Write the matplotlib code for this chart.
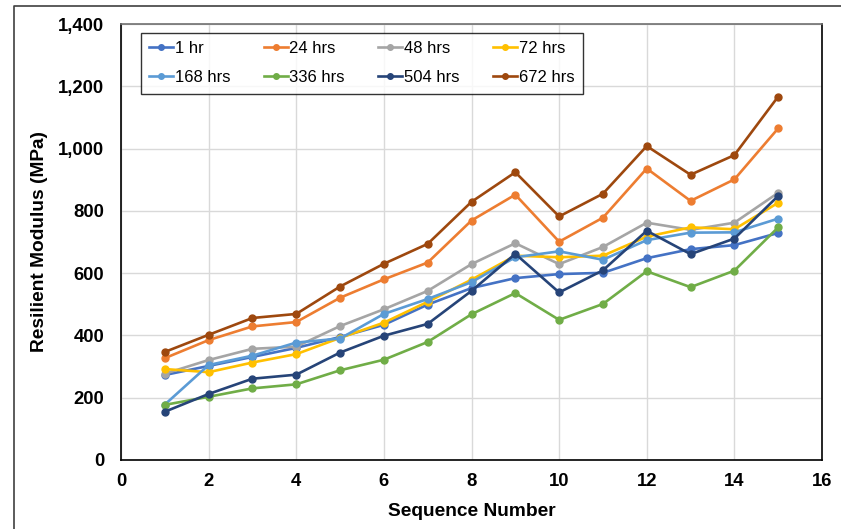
import matplotlib
matplotlib.use("Agg")
import matplotlib.pyplot as plt
from matplotlib.lines import Line2D
from matplotlib.ticker import FuncFormatter, MultipleLocator

plt.rcParams['font.family'] = ['Liberation Sans', 'DejaVu Sans']

seq = list(range(1, 16))
hr1 = [273, 302, 331, 360, 395, 434, 499, 552, 584, 597, 601, 648, 677, 690, 729]
hr24 = [327, 385, 429, 443, 521, 580, 634, 769, 852, 701, 778, 936, 832, 901, 1065]
hr48 = [277, 321, 357, 364, 430, 484, 543, 629, 696, 629, 684, 762, 739, 762, 858]
hr72 = [292, 282, 313, 340, 392, 441, 508, 579, 656, 651, 656, 717, 747, 741, 826]
hr168 = [178, 305, 335, 377, 390, 469, 517, 571, 651, 670, 643, 706, 730, 731, 775]
hr336 = [177, 203, 230, 243, 288, 322, 379, 468, 536, 450, 501, 606, 555, 608, 747]
hr504 = [155, 212, 261, 274, 345, 399, 437, 543, 662, 538, 609, 736, 661, 711, 848]
hr672 = [347, 402, 456, 469, 557, 630, 694, 829, 924, 782, 855, 1008, 916, 979, 1167]

series = [
    ("1 hr", hr1, "#4472C4"),
    ("24 hrs", hr24, "#ED7D31"),
    ("48 hrs", hr48, "#A5A5A5"),
    ("72 hrs", hr72, "#FFC000"),
    ("168 hrs", hr168, "#5B9BD5"),
    ("336 hrs", hr336, "#70AD47"),
    ("504 hrs", hr504, "#264478"),
    ("672 hrs", hr672, "#9E480E"),
]

W, H = 841, 529
fig = plt.figure(figsize=(W / 100, H / 100), dpi=100)
ax = fig.add_axes([121/W, 69/H, 701/W, 436/H])

# outer frame (top and left edges only, as in the reference)
fig.add_artist(Line2D([14/W, 14/W, 1], [0, 1 - 6/H, 1 - 6/H],
                      transform=fig.transFigure, color='#404040', lw=1.2))

handles = []
for name, vals, col in series:
    h, = ax.plot(seq, vals, color=col, lw=1.9, marker='o', ms=5, label=name)
    handles.append(h)

ax.set_xlim(0, 16)
ax.set_ylim(0, 1400)
ax.xaxis.set_major_locator(MultipleLocator(2))
ax.yaxis.set_major_locator(MultipleLocator(200))
ax.yaxis.set_major_formatter(FuncFormatter(lambda v, p: f"{int(v):,}"))
ax.grid(True, color='#d9d9d9', lw=1)
ax.set_axisbelow(True)
ax.tick_params(axis='y', length=0, labelsize=13.3, pad=12)
ax.tick_params(axis='x', length=0, labelsize=13.3, pad=9.5)
for lab in ax.get_xticklabels() + ax.get_yticklabels():
    lab.set_fontweight('bold')
for s in ax.spines.values():
    s.set_color('black')
    s.set_linewidth(1.2)
ax.spines['top'].set_color('#6f6f6f')

ax.set_xlabel("Sequence Number", fontsize=13.8, fontweight='bold', labelpad=9)
ax.set_ylabel("Resilient Modulus (MPa)", fontsize=13.8, fontweight='bold', labelpad=7)

# reorder so legend reads row-wise (matplotlib fills column-wise)
order = [0, 4, 1, 5, 2, 6, 3, 7]
leg = ax.legend([handles[i] for i in order], [series[i][0] for i in order],
                ncol=4, loc='upper left', bbox_to_anchor=(0.028, 0.98),
                borderaxespad=0,
                fontsize=12, frameon=True, fancybox=False, edgecolor='black',
                handlelength=1.45, handletextpad=0.1, columnspacing=2.0,
                borderpad=0.5, labelspacing=0.85, markerscale=0.8)
leg.get_frame().set_linewidth(1.0)

fig.savefig("out.png", dpi=100)
